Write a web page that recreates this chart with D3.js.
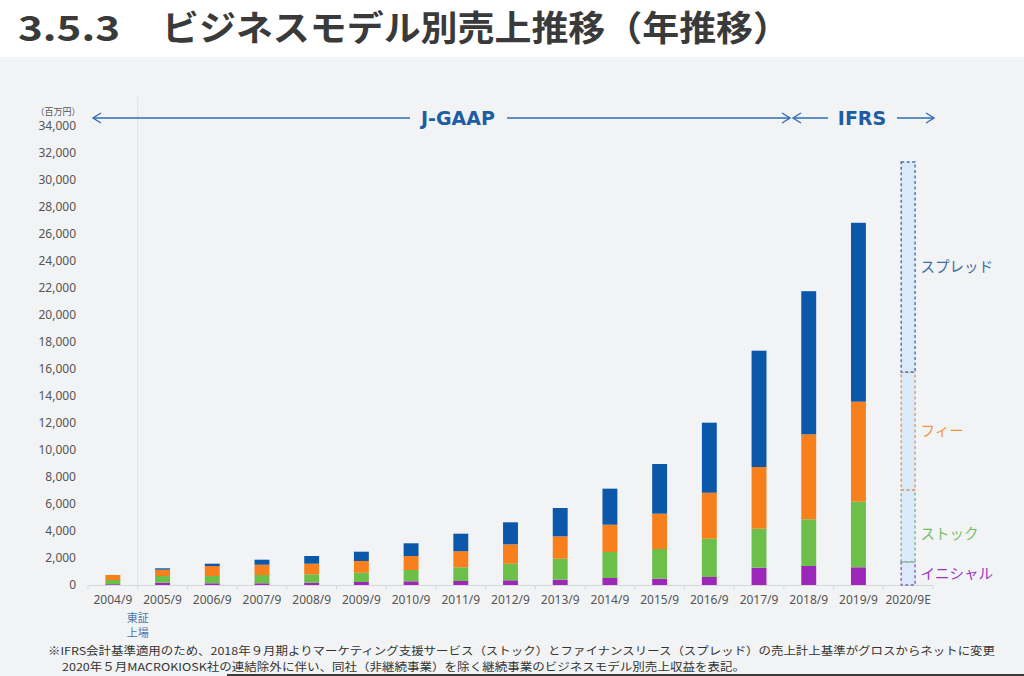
<!DOCTYPE html>
<html><head><meta charset="utf-8">
<script src="https://cdn.jsdelivr.net/npm/d3@7"></script>
<style>
html,body{margin:0;padding:0;background:#fff;}
svg{display:block;font-family:"Noto Sans CJK JP","Noto Sans",sans-serif;}
</style></head>
<body>
<svg id="c" width="1024" height="676"></svg>
<script>
const categories = ["2004/9","2005/9","2006/9","2007/9","2008/9","2009/9","2010/9","2011/9","2012/9","2013/9","2014/9","2015/9","2016/9","2017/9","2018/9","2019/9","2020/9E"];
const seriesNames = ["イニシャル","ストック","フィー","スプレッド"];
const initial = [60,170,126,126,170,222,274,296,348,393,519,467,593,1281,1407,1311,1726];
const stock   = [310,497,541,615,620,689,837,1015,1232,1555,1925,2200,2837,2889,3460,4859,5311];
const fee     = [370,466,740,763,788,867,1037,1185,1435,1659,2023,2617,3407,4571,6296,7410,8741];
const spread  = [0,104,171,370,570,689,941,1304,1629,2097,2669,3679,5185,8615,10602,13250,15555];
const yTicks = [0,2000,4000,6000,8000,10000,12000,14000,16000,18000,20000,22000,24000,26000,28000,30000,32000,34000];
const forecastCategory = "2020/9E";

const colors = ["#9c27b8","#6cc04a","#f77f1c","#0b58aa"];
const dashColors = ["#8a5cc0","#7fbc78","#e39a5c","#4d719c"];
const labelColors = ["#9d33c2","#74c06a","#f29342","#3b6ea6"];

const svg = d3.select("#c");
svg.append("rect").attr("x",0).attr("y",0).attr("width",1024).attr("height",57).attr("fill","#ffffff");
svg.append("rect").attr("x",0).attr("y",57).attr("width",1024).attr("height",619).attr("fill","#f2f3f4");

// title
svg.append("text").attr("x",18).attr("y",41).attr("font-size",35).attr("font-weight",700).attr("fill","#3a3a3a")
  .attr("font-family","'Noto Sans CJK JP',sans-serif")
  .attr("textLength",102).attr("lengthAdjust","spacingAndGlyphs")
  .text("3.5.3");
svg.append("text").attr("x",162).attr("y",41).attr("font-size",35).attr("font-weight",700).attr("fill","#3a3a3a")
  .attr("font-family","'Noto Sans CJK JP',sans-serif")
  .attr("textLength",628).attr("lengthAdjust","spacingAndGlyphs")
  .text("ビジネスモデル別売上推移（年推移）");

const x = d3.scaleBand().domain(categories).range([88,933]).paddingInner(0.7).paddingOuter(0.35);
const y = d3.scaleLinear().domain([0,34000]).range([585,126]);

const step = x.step();
svg.append("line").attr("x1",x("2005/9")-(step-x.bandwidth())/2).attr("x2",x("2005/9")-(step-x.bandwidth())/2)
  .attr("y1",97).attr("y2",585).attr("stroke","#dde7f1").attr("stroke-width",1.2);

// y axis
const yAxis = d3.axisLeft(y).tickValues(yTicks).tickFormat(d3.format(",")).tickSize(0).tickPadding(0);
const gy = svg.append("g").attr("transform","translate(76,0)").call(yAxis);
gy.select(".domain").remove();
gy.selectAll("text").attr("font-size",12).attr("fill","#555").attr("font-family","'Noto Sans','DejaVu Sans',sans-serif");
svg.append("text").attr("x",58).attr("y",115).attr("text-anchor","middle").attr("font-size",9).attr("fill","#555").text("（百万円）");

// x axis
const xAxis = d3.axisBottom(x).tickSize(0).tickPadding(10);
const gx = svg.append("g").attr("transform","translate(0,585)").call(xAxis);
gx.select(".domain").attr("stroke","#d5d8db");
gx.selectAll("text").attr("font-size",12).attr("fill","#555").attr("font-family","'Noto Sans','DejaVu Sans',sans-serif");
const bounds = categories.map(c=>x(c)-(step-x.bandwidth())/2).concat([x(categories[categories.length-1])+x.bandwidth()+(step-x.bandwidth())/2]);
svg.append("g").selectAll("line").data(bounds).join("line")
  .attr("x1",d=>d).attr("x2",d=>d).attr("y1",585).attr("y2",589).attr("stroke","#d5d8db");

const lx = bounds[1];
svg.append("text").attr("x",lx).attr("y",622).attr("text-anchor","middle").attr("font-size",11).attr("fill","#4a78ac").text("東証");
svg.append("text").attr("x",lx).attr("y",637).attr("text-anchor","middle").attr("font-size",11).attr("fill","#4a78ac").text("上場");

// stacked
const table = categories.map((c,i)=>({cat:c,"イニシャル":initial[i],"ストック":stock[i],"フィー":fee[i],"スプレッド":spread[i]}));
const stacked = d3.stack().keys(seriesNames)(table);

stacked.forEach((layer,li)=>{
  const g = svg.append("g");
  g.selectAll("rect").data(layer.filter(d=>d.data.cat!==forecastCategory)).join("rect")
    .attr("x",d=>x(d.data.cat)).attr("width",x.bandwidth())
    .attr("y",d=>y(d[1])).attr("height",d=>Math.max(0,y(d[0])-y(d[1])))
    .attr("fill",colors[li]);
  const f = layer.find(d=>d.data.cat===forecastCategory);
  g.append("rect").attr("x",x(forecastCategory)+0.5).attr("width",x.bandwidth()-1)
    .attr("y",y(f[1])).attr("height",y(f[0])-y(f[1]))
    .attr("fill","#dbeafb").attr("stroke",dashColors[li]).attr("stroke-width",1.4).attr("stroke-dasharray","3,2.5");
  const my = (y(f[0])+y(f[1]))/2 + (li===1?8:0);
  svg.append("text").attr("x",x(forecastCategory)+x.bandwidth()+5).attr("y",my).attr("dy","0.36em")
    .attr("font-size",14.5).attr("fill",labelColors[li]).text(seriesNames[li]);
});

// arrows
function arrowHead(xp,yp,dir){
  svg.append("path").attr("d",`M${xp-dir*8},${yp-5}L${xp},${yp}L${xp-dir*8},${yp+5}`)
    .attr("fill","none").attr("stroke","#2f6fb3").attr("stroke-width",1.4);
}
const ay = 118;
function hline(x1,x2){svg.append("line").attr("x1",x1).attr("x2",x2).attr("y1",ay).attr("y2",ay).attr("stroke","#2f6fb3").attr("stroke-width",1.4);}
hline(93,410); hline(507,790);
arrowHead(93,ay,-1); arrowHead(790,ay,1);
svg.append("text").attr("x",458).attr("y",ay).attr("dy","0.36em").attr("text-anchor","middle").attr("font-size",19).attr("font-weight",700)
  .attr("fill","#1d5da6").attr("font-family","'DejaVu Sans',sans-serif").text("J-GAAP");
hline(793,828); hline(897,934);
arrowHead(793,ay,-1); arrowHead(934,ay,1);
svg.append("text").attr("x",862).attr("y",ay).attr("dy","0.36em").attr("text-anchor","middle").attr("font-size",19).attr("font-weight",700)
  .attr("fill","#1d5da6").attr("font-family","'DejaVu Sans',sans-serif").text("IFRS");

// footnotes
svg.append("text").attr("x",48).attr("y",655).attr("font-size",11).attr("fill","#333")
  .attr("textLength",947).attr("lengthAdjust","spacingAndGlyphs")
  .text("※IFRS会計基準適用のため、2018年９月期よりマーケティング支援サービス（ストック）とファイナンスリース（スプレッド）の売上計上基準がグロスからネットに変更");
svg.append("text").attr("x",62).attr("y",671).attr("font-size",11).attr("fill","#333")
  .attr("textLength",683).attr("lengthAdjust","spacingAndGlyphs")
  .text("2020年５月MACROKIOSK社の連結除外に伴い、同社（非継続事業）を除く継続事業のビジネスモデル別売上収益を表記。");
svg.append("rect").attr("x",227).attr("y",674).attr("width",797).attr("height",2).attr("fill","#3a3a3a");
</script>
</body></html>
